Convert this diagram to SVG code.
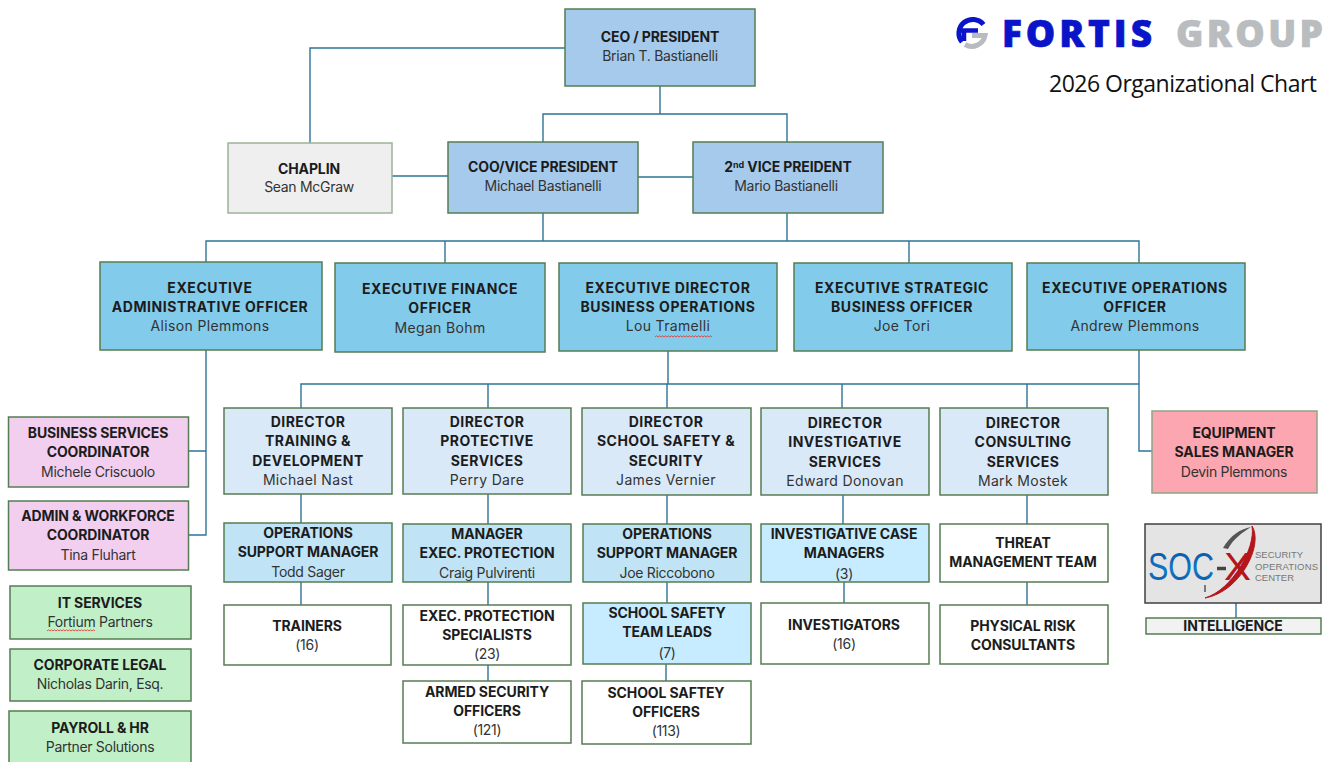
<svg xmlns="http://www.w3.org/2000/svg" width="1323" height="762" viewBox="0 0 1323 762">
<defs><linearGradient id="socblue" x1="0" y1="0" x2="0" y2="1"><stop offset="0" stop-color="#0b4f9e"/><stop offset=".6" stop-color="#1078c8"/><stop offset="1" stop-color="#0a4a96"/></linearGradient></defs>
<style>
text{font-family:"Inter","Liberation Sans",sans-serif;text-anchor:middle;font-size:14px;fill:#333}
.b{font-weight:700;fill:#1c1c1c;letter-spacing:-.12px}
.w{font-weight:700;fill:#1c1c1c;letter-spacing:.45px}
.e{font-weight:700;fill:#1c1c1c;letter-spacing:.58px}
.n{font-weight:400;letter-spacing:-.3px}
.nw{font-weight:400;letter-spacing:.35px}
.box{stroke:#557c52;stroke-width:1.5}
.ceo{fill:#a6caec}.chap{fill:#efefef;stroke:#9db496}.exec{fill:#83cbeb}.dir{fill:#dae9f8}.mgr{fill:#c0e4f5}.lead{fill:#c7ecff}.plain{fill:#fff}.pink{fill:#f2ceef}.green{fill:#c1f0c8}.red{fill:#fba6b0;stroke:#8fa585}.intel{fill:#f2f2f2}
#connectors path{fill:none;stroke:#2f7396;stroke-width:1.4}
.sq{fill:none;stroke:#e0403a;stroke-width:.9}
.lg{text-anchor:start;font-family:"Open Sans",sans-serif;font-size:37px;font-weight:800;stroke-width:.7}
.soc{text-anchor:start;font-family:"Liberation Sans",sans-serif;font-size:39px}
.sc{text-anchor:start;font-family:"Liberation Sans",sans-serif;font-size:9.5px;fill:#777;letter-spacing:0}
</style>
<g id="connectors">
<path d="M565 48H310V143"/>
<path d="M660 86V114M543 142V114H787V142"/>
<path d="M392 176H448M638 177H693"/>
<path d="M543 213V241M787 213V241M206 262V241H1139V263M445 241V263M909 241V263"/>
<path d="M206 350V535H189M206 451H189"/>
<path d="M668 351V384M301 408V384H1139M488 384V408M667 384V408M842 384V408M1027 384V408"/>
<path d="M1139 350V451H1152"/>
<path d="M301 494V523M301 582V605M488 494V524M488 582V605M488 665V681"/>
<path d="M667 495V524M667 582V603M666 664V681"/>
<path d="M843 495V524M844 582V603M1027 495V524M1027 582V605"/>
<path d="M1236 603V618"/>
</g>
<g id="logo">
<path d="M962 42A13.500 13.500 0 1 1 983.500 24.500" fill="none" stroke="#0a14c8" stroke-width="5"/>
<path d="M957 30.500H978M964 31V41" fill="none" stroke="#0a14c8" stroke-width="4.500"/>
<path d="M965 44.500A13.500 13.500 0 0 0 985 35.500H972" fill="none" stroke="#b8bcc0" stroke-width="5"/>
<text class="lg" x="1002" y="47" textLength="150" style="fill:#0a14c8;stroke:#0a14c8">FORTIS</text>
<text class="lg" x="1176" y="47" textLength="147" style="fill:#b9bdc0;stroke:#b9bdc0">GROUP</text>
<text x="1049" y="92" textLength="268" style="text-anchor:start;font-family:'Open Sans',sans-serif;font-size:23px;fill:#111">2026 Organizational Chart</text>
</g>
<g id="ceo"><rect class="box ceo" x="565" y="9" width="190" height="77"/><text class="b" x="660" y="42">CEO / PRESIDENT</text><text class="n" x="660" y="61">Brian T. Bastianelli</text></g>
<g id="chaplin"><rect class="box chap" x="228" y="143" width="164" height="70"/><text class="b" x="309" y="174">CHAPLIN</text><text class="n" x="309" y="192">Sean McGraw</text></g>
<g id="coo"><rect class="box ceo" x="448" y="142" width="190" height="71"/><text class="b" x="543" y="172">COO/VICE PRESIDENT</text><text class="n" x="543" y="191">Michael Bastianelli</text></g>
<g id="vp2"><rect class="box ceo" x="693" y="142" width="190" height="71"/><text class="b" x="788" y="172">2<tspan dy="-4" font-size="9">nd</tspan><tspan dy="4"> VICE PREIDENT</tspan></text><text class="n" x="786" y="191">Mario Bastianelli</text></g>
<g id="eao"><rect class="box exec" x="100" y="262" width="222" height="88"/><text class="e" x="210" y="293">EXECUTIVE</text><text class="e" x="210" y="312">ADMINISTRATIVE OFFICER</text><text class="nw" x="210" y="331">Alison Plemmons</text></g>
<g id="efo"><rect class="box exec" x="335" y="263" width="210" height="89"/><text class="e" x="440" y="294">EXECUTIVE FINANCE</text><text class="e" x="440" y="313">OFFICER</text><text class="nw" x="440" y="333">Megan Bohm</text></g>
<g id="edbo"><rect class="box exec" x="559" y="263" width="218" height="88"/><text class="e" x="668" y="293">EXECUTIVE DIRECTOR</text><text class="e" x="668" y="312">BUSINESS OPERATIONS</text><text class="nw" x="668" y="331">Lou Tramelli</text><path class="sq" d="M655 337l1.500-1.200 1.500 1.200 1.500-1.200 1.500 1.200 1.500-1.200 1.500 1.200 1.500-1.200 1.500 1.200 1.500-1.200 1.500 1.200 1.500-1.200 1.500 1.200 1.500-1.200 1.500 1.200 1.500-1.200 1.500 1.200 1.500-1.200 1.500 1.200 1.500-1.200 1.500 1.200 1.500-1.200 1.500 1.200 1.500-1.200 1.500 1.200 1.500-1.200 1.500 1.200 1.500-1.200 1.500 1.200 1.500-1.200 1.500 1.200 1.500-1.200 1.500 1.200 1.500-1.200 1.500 1.200 1.500-1.200 1.500 1.200 1.500-1.200 1.500 1.200"/></g>
<g id="esbo"><rect class="box exec" x="794" y="263" width="218" height="88"/><text class="e" x="902" y="293">EXECUTIVE STRATEGIC</text><text class="e" x="902" y="312">BUSINESS OFFICER</text><text class="nw" x="902" y="331">Joe Tori</text></g>
<g id="eoo"><rect class="box exec" x="1027" y="263" width="218" height="87"/><text class="e" x="1135" y="293">EXECUTIVE OPERATIONS</text><text class="e" x="1135" y="312">OFFICER</text><text class="nw" x="1135" y="331">Andrew Plemmons</text></g>
<g id="bsc"><rect class="box pink" x="8.500" y="417" width="180" height="70"/><text class="b" x="98" y="438">BUSINESS SERVICES</text><text class="b" x="98" y="457">COORDINATOR</text><text class="n" x="98" y="477">Michele Criscuolo</text></g>
<g id="awc"><rect class="box pink" x="8.500" y="501" width="180" height="69"/><text class="b" x="98" y="521">ADMIN &amp; WORKFORCE</text><text class="b" x="98" y="540">COORDINATOR</text><text class="n" x="98" y="560">Tina Fluhart</text></g>
<g id="it"><rect class="box green" x="10" y="586" width="181" height="53"/><text class="b" x="100" y="608">IT SERVICES</text><text class="n" x="100" y="627">Fortium Partners</text><path class="sq" d="M47 631l1.500-1.200 1.500 1.200 1.500-1.200 1.500 1.200 1.500-1.200 1.500 1.200 1.500-1.200 1.500 1.200 1.500-1.200 1.500 1.200 1.500-1.200 1.500 1.200 1.500-1.200 1.500 1.200 1.500-1.200 1.500 1.200 1.500-1.200 1.500 1.200 1.500-1.200 1.500 1.200 1.500-1.200 1.500 1.200 1.500-1.200 1.500 1.200 1.500-1.200 1.500 1.200 1.500-1.200 1.500 1.200 1.500-1.200 1.500 1.200 1.500-1.200 1.500 1.200"/></g>
<g id="legal"><rect class="box green" x="10" y="649" width="181" height="52"/><text class="b" x="100" y="670">CORPORATE LEGAL</text><text class="n" x="100" y="689">Nicholas Darin, Esq.</text></g>
<g id="payroll"><rect class="box green" x="9" y="711" width="182" height="60"/><text class="b" x="100" y="733">PAYROLL &amp; HR</text><text class="n" x="100" y="752">Partner Solutions</text></g>
<g id="d1"><rect class="box dir" x="224" y="408" width="168" height="86"/><text class="w" x="308" y="427">DIRECTOR</text><text class="w" x="308" y="446">TRAINING &amp;</text><text class="w" x="308" y="466">DEVELOPMENT</text><text class="nw" x="308" y="485">Michael Nast</text></g>
<g id="d2"><rect class="box dir" x="403" y="408" width="168" height="86"/><text class="w" x="487" y="427">DIRECTOR</text><text class="w" x="487" y="446">PROTECTIVE</text><text class="w" x="487" y="466">SERVICES</text><text class="nw" x="487" y="485">Perry Dare</text></g>
<g id="d3"><rect class="box dir" x="582" y="408" width="169" height="87"/><text class="w" x="666" y="427">DIRECTOR</text><text class="w" x="666" y="446">SCHOOL SAFETY &amp;</text><text class="w" x="666" y="466">SECURITY</text><text class="nw" x="666" y="485">James Vernier</text></g>
<g id="d4"><rect class="box dir" x="761" y="408" width="168" height="87"/><text class="w" x="845" y="428">DIRECTOR</text><text class="w" x="845" y="447">INVESTIGATIVE</text><text class="w" x="845" y="467">SERVICES</text><text class="nw" x="845" y="486">Edward Donovan</text></g>
<g id="d5"><rect class="box dir" x="940" y="408" width="168" height="87"/><text class="w" x="1023" y="428">DIRECTOR</text><text class="w" x="1023" y="447">CONSULTING</text><text class="w" x="1023" y="467">SERVICES</text><text class="nw" x="1023" y="486">Mark Mostek</text></g>
<g id="m1"><rect class="box mgr" x="224" y="523" width="168" height="59"/><text class="b" x="308" y="538">OPERATIONS</text><text class="b" x="308" y="557">SUPPORT MANAGER</text><text class="n" x="308" y="577">Todd Sager</text></g>
<g id="m2"><rect class="box mgr" x="403" y="524" width="168" height="58"/><text class="b" x="487" y="539">MANAGER</text><text class="b" x="487" y="558">EXEC. PROTECTION</text><text class="n" x="487" y="578">Craig Pulvirenti</text></g>
<g id="m3"><rect class="box mgr" x="583" y="524" width="168" height="58"/><text class="b" x="667" y="539">OPERATIONS</text><text class="b" x="667" y="558">SUPPORT MANAGER</text><text class="n" x="667" y="578">Joe Riccobono</text></g>
<g id="m4"><rect class="box lead" x="761" y="524" width="168" height="58"/><text class="b" x="844" y="539">INVESTIGATIVE CASE</text><text class="b" x="844" y="558">MANAGERS</text><text class="n" x="844" y="579">(3)</text></g>
<g id="m5"><rect class="box plain" x="940" y="524" width="168" height="58"/><text class="b" x="1023" y="548">THREAT</text><text class="b" x="1023" y="567">MANAGEMENT TEAM</text></g>
<g id="r1"><rect class="box plain" x="224" y="605" width="167" height="60"/><text class="b" x="307" y="631">TRAINERS</text><text class="n" x="307" y="650">(16)</text></g>
<g id="r2"><rect class="box plain" x="403" y="605" width="168" height="60"/><text class="b" x="487" y="621">EXEC. PROTECTION</text><text class="b" x="487" y="640">SPECIALISTS</text><text class="n" x="487" y="659">(23)</text></g>
<g id="r3"><rect class="box lead" x="583" y="603" width="168" height="61"/><text class="b" x="667" y="618">SCHOOL SAFETY</text><text class="b" x="667" y="637">TEAM LEADS</text><text class="n" x="667" y="658">(7)</text></g>
<g id="r4"><rect class="box plain" x="761" y="603" width="168" height="61"/><text class="b" x="844" y="630">INVESTIGATORS</text><text class="n" x="844" y="649">(16)</text></g>
<g id="r5"><rect class="box plain" x="940" y="605" width="168" height="59"/><text class="b" x="1023" y="631">PHYSICAL RISK</text><text class="b" x="1023" y="650">CONSULTANTS</text></g>
<g id="s2"><rect class="box plain" x="403" y="681" width="168" height="62"/><text class="b" x="487" y="697">ARMED SECURITY</text><text class="b" x="487" y="716">OFFICERS</text><text class="n" x="487" y="735">(121)</text></g>
<g id="s3"><rect class="box plain" x="582" y="681" width="169" height="63"/><text class="b" x="666" y="698">SCHOOL SAFTEY</text><text class="b" x="666" y="717">OFFICERS</text><text class="n" x="666" y="736">(113)</text></g>
<g id="sales"><rect class="box red" x="1152" y="411" width="165" height="82"/><text class="b" x="1234" y="438">EQUIPMENT</text><text class="b" x="1234" y="457">SALES MANAGER</text><text class="n" x="1234" y="477">Devin Plemmons</text></g>
<g id="socx"><rect x="1145" y="524" width="176" height="79" fill="#e4e4e4" stroke="#404040" stroke-width="1.500"/>
<path d="M1252 526C1264 545 1240 592 1205 598C1232 590 1256 548 1252 526Z" fill="#b5161c" stroke="#b5161c" stroke-width="1"/>
<path d="M1223 548C1230 536 1240 529 1251 527C1243 532 1233 539 1228 549Z" fill="#555"/>
<path d="M1205 585V592" fill="none" stroke="#555" stroke-width="1.500"/>
<text class="soc" x="1148" y="580" textLength="66" lengthAdjust="spacingAndGlyphs" style="fill:url(#socblue)">SOC</text>
<text class="soc" x="1224" y="580" textLength="27" lengthAdjust="spacingAndGlyphs" style="fill:#b5161c">X</text>
<path d="M1217 568.500H1226" stroke="#444" stroke-width="3.500" fill="none"/>
<text class="sc" x="1255" y="558">SECURITY</text>
<text class="sc" x="1255" y="570" textLength="63">OPERATIONS</text>
<text class="sc" x="1255" y="581">CENTER</text></g>
<g id="intelligence"><rect class="box intel" x="1146" y="618" width="175" height="16"/><text class="b" x="1233" y="631">INTELLIGENCE</text></g>
</svg>
